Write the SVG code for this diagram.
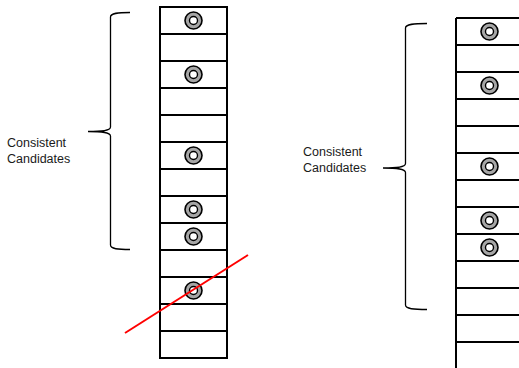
<svg xmlns="http://www.w3.org/2000/svg" width="519" height="368" viewBox="0 0 519 368">
  <defs>
    <style>
      .cell { fill: #ffffff; stroke: #000000; stroke-width: 2; }
      .row { stroke: #000000; stroke-width: 2; }
      .ring { fill: #a6a6a6; stroke: #000000; stroke-width: 1.6; }
      .hole { fill: #ffffff; stroke: #000000; stroke-width: 1.4; }
      .brace { fill: none; stroke: #000000; stroke-width: 1.3; }
      .label { font-family: "Liberation Sans", Arial, sans-serif; font-size: 12.5px; fill: #1a1a1a; }
      .cut { stroke: #ff0000; stroke-width: 2; }
    </style>
    <g id="marker-dot">
      <circle class="ring" r="8.5"/>
      <circle class="hole" r="4"/>
    </g>
  </defs>
  <rect width="519" height="368" fill="#ffffff"/>

  <!-- left column: 13 slots -->
  <g id="left-column">
    <rect class="cell" x="160" y="7" width="67" height="351"/>
    <g class="row">
      <line x1="160" y1="34" x2="227" y2="34"/>
      <line x1="160" y1="61" x2="227" y2="61"/>
      <line x1="160" y1="88" x2="227" y2="88"/>
      <line x1="160" y1="115" x2="227" y2="115"/>
      <line x1="160" y1="142" x2="227" y2="142"/>
      <line x1="160" y1="169" x2="227" y2="169"/>
      <line x1="160" y1="196" x2="227" y2="196"/>
      <line x1="160" y1="223" x2="227" y2="223"/>
      <line x1="160" y1="250" x2="227" y2="250"/>
      <line x1="160" y1="277" x2="227" y2="277"/>
      <line x1="160" y1="304" x2="227" y2="304"/>
      <line x1="160" y1="331" x2="227" y2="331"/>
    </g>
    <use href="#marker-dot" x="193.5" y="20.5"/>
    <use href="#marker-dot" x="193.5" y="74.5"/>
    <use href="#marker-dot" x="193.5" y="155.5"/>
    <use href="#marker-dot" x="193.5" y="209.5"/>
    <use href="#marker-dot" x="193.5" y="236.5"/>
    <use href="#marker-dot" x="193.5" y="290.5"/>
  </g>

  <!-- right column: clipped at the right edge -->
  <g id="right-column">
    <line class="row" x1="456" y1="18" x2="456" y2="368"/>
    <g class="row">
      <line x1="456" y1="18" x2="519" y2="18"/>
      <line x1="456" y1="45" x2="519" y2="45"/>
      <line x1="456" y1="72" x2="519" y2="72"/>
      <line x1="456" y1="99" x2="519" y2="99"/>
      <line x1="456" y1="126" x2="519" y2="126"/>
      <line x1="456" y1="153" x2="519" y2="153"/>
      <line x1="456" y1="180" x2="519" y2="180"/>
      <line x1="456" y1="207" x2="519" y2="207"/>
      <line x1="456" y1="234" x2="519" y2="234"/>
      <line x1="456" y1="261" x2="519" y2="261"/>
      <line x1="456" y1="288" x2="519" y2="288"/>
      <line x1="456" y1="315" x2="519" y2="315"/>
      <line x1="456" y1="342" x2="519" y2="342"/>
    </g>
    <use href="#marker-dot" x="489.5" y="31.5"/>
    <use href="#marker-dot" x="489.5" y="85.5"/>
    <use href="#marker-dot" x="489.5" y="166.5"/>
    <use href="#marker-dot" x="489.5" y="220.5"/>
    <use href="#marker-dot" x="489.5" y="247.5"/>
  </g>

  <!-- brace + label, left -->
  <g id="left-brace">
    <path class="brace" d="M130 12.5 C118 12.5 110.5 13 110.5 17 L110.5 127 C110.5 131 100 131.5 88 131.5 C100 131.5 110.5 132 110.5 136 L110.5 245 C110.5 249 118 249.5 130 249.5"/>
    <text class="label" x="7" y="146.5">Consistent</text>
    <text class="label" x="7" y="162.5">Candidates</text>
  </g>

  <!-- brace + label, right -->
  <g id="right-brace">
    <path class="brace" d="M427 23.5 C414 23.5 405.5 24 405.5 28 L405.5 163.5 C405.5 167.5 395 168 383 168 C395 168 405.5 168.5 405.5 172.5 L405.5 305 C405.5 309 414 309.5 427 309.5"/>
    <text class="label" x="303" y="156">Consistent</text>
    <text class="label" x="303" y="172">Candidates</text>
  </g>

  <!-- red cut line -->
  <g id="connectors">
    <line class="cut" x1="125" y1="333" x2="248" y2="255"/>
  </g>
</svg>
